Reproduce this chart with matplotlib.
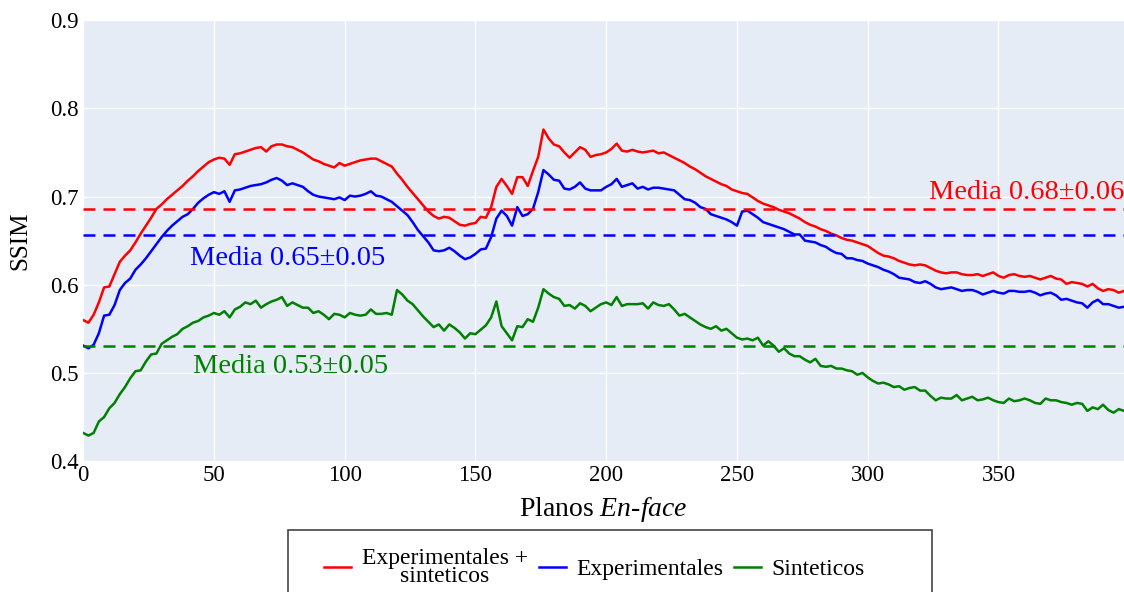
import numpy as np
import matplotlib
matplotlib.use('Agg')
import matplotlib.pyplot as plt
from matplotlib.patches import Rectangle

plt.rcParams['font.family'] = ['Liberation Serif', 'DejaVu Serif']
plt.rcParams['mathtext.fontset'] = 'custom'
plt.rcParams['mathtext.rm'] = 'Liberation Serif'
plt.rcParams['mathtext.it'] = 'Liberation Serif:italic'

# planos en-face (cada 2)
planos = list(range(0, 400, 2))

# SSIM experimentales + sinteticos
ssim_mix = [
    0.560, 0.557, 0.566, 0.580, 0.597, 0.598, 0.612, 0.626, 0.633, 0.639,
    0.648, 0.658, 0.667, 0.676, 0.686, 0.691, 0.697, 0.702, 0.707, 0.712,
    0.718, 0.723, 0.729, 0.734, 0.739, 0.742, 0.744, 0.743, 0.736, 0.748,
    0.749, 0.751, 0.753, 0.755, 0.756, 0.751, 0.757, 0.759, 0.759, 0.757,
    0.756, 0.753, 0.750, 0.746, 0.742, 0.740, 0.737, 0.735, 0.733, 0.738,
    0.735, 0.737, 0.739, 0.741, 0.742, 0.743, 0.743, 0.740, 0.737, 0.734,
    0.726, 0.719, 0.711, 0.704, 0.697, 0.690, 0.683, 0.678, 0.675, 0.677,
    0.676, 0.672, 0.668, 0.667, 0.669, 0.670, 0.677, 0.676, 0.688, 0.711,
    0.720, 0.712, 0.703, 0.722, 0.722, 0.712, 0.729, 0.745, 0.776, 0.766,
    0.759, 0.757, 0.750, 0.744, 0.750, 0.756, 0.753, 0.745, 0.747, 0.748,
    0.750, 0.754, 0.760, 0.752, 0.751, 0.753, 0.751, 0.750, 0.751, 0.752,
    0.749, 0.750, 0.747, 0.744, 0.741, 0.738, 0.734, 0.731, 0.727, 0.723,
    0.720, 0.717, 0.714, 0.712, 0.708, 0.706, 0.704, 0.703, 0.699, 0.695,
    0.692, 0.690, 0.688, 0.685, 0.683, 0.681, 0.678, 0.675, 0.671, 0.668,
    0.666, 0.663, 0.661, 0.658, 0.656, 0.653, 0.651, 0.650, 0.648, 0.646,
    0.644, 0.640, 0.636, 0.633, 0.632, 0.630, 0.627, 0.625, 0.623, 0.622,
    0.623, 0.622, 0.619, 0.616, 0.614, 0.613, 0.614, 0.614, 0.612, 0.611,
    0.611, 0.612, 0.610, 0.612, 0.614, 0.610, 0.608, 0.611, 0.612, 0.610,
    0.609, 0.610, 0.608, 0.606, 0.608, 0.610, 0.607, 0.606, 0.601, 0.603,
    0.602, 0.601, 0.598, 0.601, 0.596, 0.593, 0.595, 0.594, 0.591, 0.593,
]

# SSIM experimentales
ssim_exp = [
    0.531, 0.528, 0.532, 0.545, 0.565, 0.566, 0.577, 0.594, 0.602, 0.607,
    0.617, 0.623, 0.630, 0.638, 0.646, 0.654, 0.661, 0.667, 0.672, 0.677,
    0.680, 0.686, 0.693, 0.698, 0.702, 0.705, 0.703, 0.706, 0.694, 0.707,
    0.708, 0.710, 0.712, 0.713, 0.714, 0.716, 0.719, 0.721, 0.718, 0.713,
    0.715, 0.713, 0.711, 0.706, 0.702, 0.700, 0.699, 0.698, 0.697, 0.699,
    0.696, 0.701, 0.700, 0.701, 0.703, 0.706, 0.701, 0.700, 0.697, 0.694,
    0.689, 0.684, 0.679, 0.671, 0.662, 0.655, 0.648, 0.639, 0.638, 0.639,
    0.642, 0.638, 0.633, 0.629, 0.631, 0.635, 0.640, 0.641, 0.654, 0.675,
    0.684, 0.678, 0.667, 0.688, 0.678, 0.680, 0.686, 0.705, 0.730, 0.725,
    0.719, 0.718, 0.709, 0.708, 0.711, 0.716, 0.709, 0.707, 0.707, 0.707,
    0.711, 0.714, 0.720, 0.711, 0.713, 0.715, 0.709, 0.711, 0.708, 0.710,
    0.710, 0.709, 0.708, 0.707, 0.702, 0.697, 0.696, 0.693, 0.688, 0.686,
    0.680, 0.678, 0.676, 0.674, 0.671, 0.667, 0.683, 0.684, 0.680, 0.676,
    0.671, 0.669, 0.667, 0.665, 0.663, 0.660, 0.657, 0.657, 0.650, 0.649,
    0.648, 0.645, 0.643, 0.639, 0.636, 0.635, 0.630, 0.630, 0.628, 0.627,
    0.624, 0.622, 0.620, 0.617, 0.615, 0.612, 0.608, 0.607, 0.606, 0.603,
    0.602, 0.604, 0.601, 0.597, 0.595, 0.596, 0.597, 0.595, 0.593, 0.594,
    0.594, 0.592, 0.589, 0.591, 0.593, 0.591, 0.590, 0.593, 0.593, 0.592,
    0.592, 0.593, 0.591, 0.588, 0.590, 0.591, 0.588, 0.583, 0.584, 0.582,
    0.580, 0.579, 0.574, 0.580, 0.583, 0.578, 0.578, 0.576, 0.574, 0.575,
]

# SSIM sinteticos
ssim_sin = [
    0.432, 0.429, 0.432, 0.445, 0.450, 0.460, 0.466, 0.476, 0.484, 0.494,
    0.502, 0.503, 0.513, 0.521, 0.522, 0.533, 0.537, 0.541, 0.544, 0.550,
    0.553, 0.557, 0.559, 0.563, 0.565, 0.568, 0.566, 0.570, 0.563, 0.572,
    0.575, 0.580, 0.578, 0.582, 0.574, 0.578, 0.581, 0.583, 0.586, 0.576,
    0.580, 0.577, 0.574, 0.574, 0.568, 0.570, 0.566, 0.561, 0.567, 0.566,
    0.563, 0.568, 0.566, 0.565, 0.566, 0.572, 0.567, 0.567, 0.568, 0.566,
    0.594, 0.589, 0.582, 0.578, 0.571, 0.564, 0.558, 0.552, 0.555, 0.548,
    0.555, 0.551, 0.546, 0.539, 0.545, 0.544, 0.549, 0.554, 0.563, 0.581,
    0.553, 0.545, 0.537, 0.553, 0.552, 0.561, 0.558, 0.574, 0.595, 0.590,
    0.586, 0.584, 0.576, 0.577, 0.573, 0.579, 0.576, 0.570, 0.574, 0.578,
    0.580, 0.577, 0.586, 0.576, 0.578, 0.578, 0.578, 0.579, 0.573, 0.580,
    0.577, 0.576, 0.578, 0.572, 0.565, 0.567, 0.563, 0.559, 0.555, 0.552,
    0.550, 0.553, 0.548, 0.550, 0.545, 0.540, 0.538, 0.539, 0.537, 0.540,
    0.531, 0.536, 0.531, 0.524, 0.528, 0.522, 0.519, 0.519, 0.515, 0.512,
    0.516, 0.508, 0.507, 0.508, 0.505, 0.505, 0.503, 0.502, 0.498, 0.500,
    0.495, 0.491, 0.488, 0.489, 0.487, 0.484, 0.485, 0.481, 0.483, 0.484,
    0.480, 0.480, 0.474, 0.469, 0.472, 0.471, 0.471, 0.475, 0.469, 0.471,
    0.473, 0.469, 0.470, 0.472, 0.469, 0.467, 0.466, 0.471, 0.468, 0.469,
    0.471, 0.469, 0.466, 0.465, 0.471, 0.469, 0.469, 0.467, 0.466, 0.464,
    0.466, 0.465, 0.457, 0.461, 0.459, 0.464, 0.458, 0.455, 0.459, 0.457,
]

medias = [0.686, 0.656, 0.530]
media_txt = ['Media 0.68\u00b10.06', 'Media 0.65\u00b10.05', 'Media 0.53\u00b10.05']
nombres = ['Experimentales +\nsinteticos', 'Experimentales', 'Sinteticos']
colores = ['#ff0000', '#0000ff', '#008000']


def Main():
    fig = plt.figure(figsize=(11.24, 5.92), dpi=100)
    ax = fig.add_axes([0.074, 0.221, 0.926, 0.745])
    ax.set_facecolor('#e5ecf6')
    for s in ax.spines.values():
        s.set_visible(False)
    ax.grid(True, color='white', linewidth=1)
    ax.set_axisbelow(True)

    series = [ssim_mix, ssim_exp, ssim_sin]
    for ys, c, n in zip(series, colores, nombres):
        ax.plot(planos, ys, color=c, linewidth=1.8, label=n)
    for m, c in zip(medias, colores):
        ax.axhline(m, color=c, linewidth=1.8, dashes=(4.8, 3.2))

    # textos de la media
    ax.text(398, 0.705, media_txt[0], color=colores[0], fontsize=20.5,
            ha='right', va='center')
    ax.text(41, 0.630, media_txt[1], color=colores[1], fontsize=20.5,
            ha='left', va='center')
    ax.text(42, 0.507, media_txt[2], color=colores[2], fontsize=20.5,
            ha='left', va='center')

    ax.set_xlim(0, 398)
    ax.set_ylim(0.4, 0.9)
    ax.set_xticks([0, 50, 100, 150, 200, 250, 300, 350])
    ax.set_yticks([0.4, 0.5, 0.6, 0.7, 0.8, 0.9])
    ax.set_yticklabels(['0.4', '0.5', '0.6', '0.7', '0.8', '0.9'])
    ax.tick_params(length=0, labelsize=16.5, pad=3)
    ax.set_xlabel(r'Planos $\mathit{En}$-$\mathit{face}$', fontsize=20, labelpad=6)
    ax.set_ylabel('SSIM', fontsize=18, labelpad=14)

    # caja de la leyenda (cortada abajo como en el original)
    fig.patches.append(Rectangle((0.2562, -0.1), 0.573, 0.2047,
                                 transform=fig.transFigure, fill=False,
                                 edgecolor='#444444', linewidth=1.2))
    leg = fig.legend(loc='upper center', bbox_to_anchor=(0.529, 0.103), ncol=3,
                     fontsize=17, frameon=False, handlelength=1.15,
                     handletextpad=0.45, columnspacing=0.45, borderpad=0.2)
    leg.get_texts()[0].set_multialignment('center')
    leg.get_texts()[0].set_linespacing(0.85)

    fig.savefig('out.png', dpi=100)


if __name__ == '__main__':
    Main()
